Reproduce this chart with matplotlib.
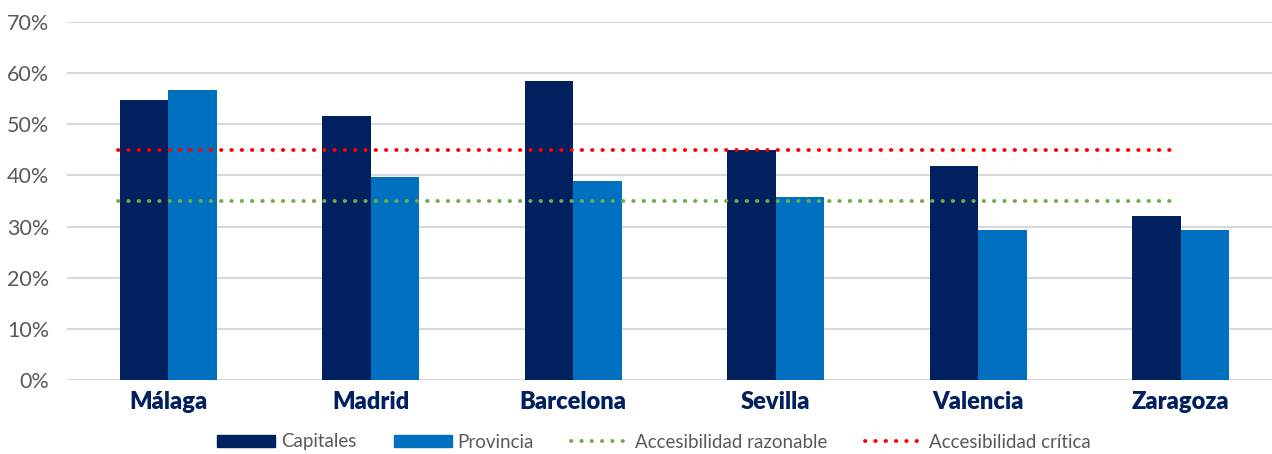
import numpy as np
import matplotlib.pyplot as plt
from matplotlib.patches import Patch
from matplotlib.lines import Line2D

# data
CIUDADES = ['Málaga', 'Madrid', 'Barcelona', 'Sevilla', 'Valencia', 'Zaragoza']
CAPITALES = [54.7, 51.7, 58.5, 45.0, 41.8, 32.0]
PROVINCIA = [56.8, 39.6, 39.0, 35.8, 29.4, 29.4]
RAZONABLE = [35, 35, 35, 35, 35, 35]
CRITICA = [45, 45, 45, 45, 45, 45]
Y_TICKS = [0, 10, 20, 30, 40, 50, 60, 70]

NAVY = '#002060'
BLUE = '#0070C0'
GREEN = '#70AD47'
RED = '#FF0000'
GREY_TXT = '#595959'

plt.rcParams['font.family'] = ['Lato', 'DejaVu Sans']


def main():
    fig = plt.figure(figsize=(12.72, 4.54), dpi=100)
    ax = fig.add_axes([67 / 1272, 74 / 454, 1 - 67 / 1272, 358 / 454])

    x = np.arange(len(CIUDADES))
    w = 0.24
    ax.bar(x - w / 2, CAPITALES, w, color=NAVY, zorder=2)
    ax.bar(x + w / 2, PROVINCIA, w, color=BLUE, zorder=2)

    # dotted reference lines span a bit wider than the bar groups
    line_x = np.linspace(-0.25, 4.96, len(CIUDADES))
    dot = dict(lw=2.8, dash_capstyle='round', linestyle=(0, (0.1, 2.55)), zorder=3)
    ax.plot(line_x, RAZONABLE, color=GREEN, **dot)
    ax.plot(line_x, CRITICA, color=RED, **dot)

    ax.set_xlim(-0.5, 5.45)
    ax.set_ylim(0, 70)
    ax.set_yticks(Y_TICKS)
    ax.set_yticklabels([f'{v}%' for v in Y_TICKS], fontsize=15.5, color=GREY_TXT)
    ax.set_xticks(x)
    ax.set_xticklabels(CIUDADES, fontsize=17, fontweight='heavy', color=NAVY)
    ax.tick_params(axis='both', length=0)
    ax.tick_params(axis='y', pad=13)
    ax.tick_params(axis='x', pad=8)

    ax.grid(axis='y', color='#D9D9D9', lw=1.5, zorder=0)
    ax.set_axisbelow(True)
    for s in ax.spines.values():
        s.set_visible(False)

    handles = [
        Patch(color=NAVY, label='Capitales'),
        Patch(color=BLUE, label='Provincia'),
        Line2D([], [], color=GREEN, label='Accesibilidad razonable', **dot),
        Line2D([], [], color=RED, label='Accesibilidad crítica', **dot),
    ]
    leg = fig.legend(handles=handles, loc='center', bbox_to_anchor=(0.514, 12 / 454), ncol=4,
                     frameon=False, fontsize=13.5, handlelength=3.1, handleheight=0.55,
                     columnspacing=2.0, handletextpad=0.3)
    for t in leg.get_texts():
        t.set_color(GREY_TXT)

    fig.savefig('out.png', dpi=100)


if __name__ == '__main__':
    main()
